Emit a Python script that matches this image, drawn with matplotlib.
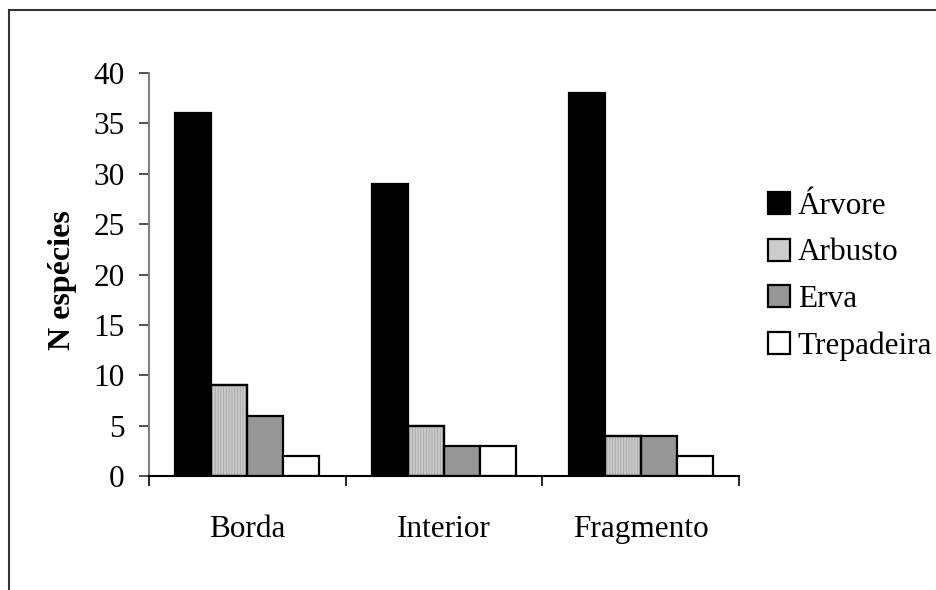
import matplotlib
matplotlib.use("Agg")
import matplotlib.pyplot as plt
import numpy as np
from matplotlib.lines import Line2D

categories = ["Borda", "Interior", "Fragmento"]
series_names = ["Árvore", "Arbusto", "Erva", "Trepadeira"]
arvore = [36, 29, 38]
arbusto = [9, 5, 4]
erva = [6, 3, 4]
trepadeira = [2, 3, 2]
yticks = [0, 5, 10, 15, 20, 25, 30, 35, 40]

plt.rcParams['font.family'] = ['Liberation Serif', 'DejaVu Serif']
plt.rcParams['hatch.linewidth'] = 0.7

W, H = 937, 590
fig = plt.figure(figsize=(W / 100, H / 100), dpi=100)
ax = fig.add_axes([149 / W, 1 - 476 / H, (739 - 149) / W, (476 - 73) / H])

x = np.arange(len(categories))
bw = 0.183
faces = ["#000000", "#cccccc", "#969696", "#ffffff"]
data = [arvore, arbusto, erva, trepadeira]
for i, (vals, name, fc) in enumerate(zip(data, series_names, faces)):
    pos = x + (i - 1.5) * bw
    ax.bar(pos, vals, width=bw, color=fc, edgecolor="black", linewidth=1.6,
           label=name, zorder=2)
    if name == "Arbusto":
        ax.bar(pos, vals, width=bw, facecolor="none", edgecolor="#a8a8a8",
               hatch="||||||", linewidth=0, zorder=2.5)
        ax.bar(pos, vals, width=bw, facecolor="none", edgecolor="black",
               linewidth=1.6, zorder=3)

ax.set_xlim(-0.5, 2.5)
ax.set_ylim(0, 40)
ax.set_yticks(yticks)
ax.set_yticklabels([str(v) for v in yticks])
ax.set_xticks(x)
ax.set_xticklabels(categories)
ax.set_xticks([-0.5, 0.5, 1.5, 2.5], minor=True)
ax.tick_params(axis='x', which='major', length=0, pad=28, labelsize=22.5)
ax.tick_params(axis='x', which='minor', length=7.5, width=1.2, color='black', direction='out')
ax.tick_params(axis='y', length=7.5, width=1.2, color='#333333', pad=10, labelsize=22.5)

for s in ["top", "right"]:
    ax.spines[s].set_visible(False)
ax.spines["left"].set_color("#808080")
ax.spines["left"].set_linewidth(1.5)
ax.spines["bottom"].set_color("black")
ax.spines["bottom"].set_linewidth(1.5)
ax.spines["bottom"].set_zorder(4)

fig.text(63 / W, 1 - 280 / H, "N espécies", rotation=90, ha="center", va="center",
         fontsize=23, fontweight="bold")

leg = ax.legend(loc="upper left", bbox_to_anchor=(768 / W, 1 - 192 / H),
                bbox_transform=fig.transFigure, frameon=False, fontsize=22.5,
                handlelength=0.7, handleheight=0.7, handletextpad=0.25,
                labelspacing=0.56, borderpad=0, borderaxespad=0)

fig.add_artist(Line2D([9 / W, 1], [1 - 9.5 / H, 1 - 9.5 / H], transform=fig.transFigure,
                      color="#333333", linewidth=1.5))
fig.add_artist(Line2D([9 / W, 9 / W], [0, 1 - 9.5 / H], transform=fig.transFigure,
                      color="#333333", linewidth=1.5))

fig.savefig("out.png", dpi=100)
